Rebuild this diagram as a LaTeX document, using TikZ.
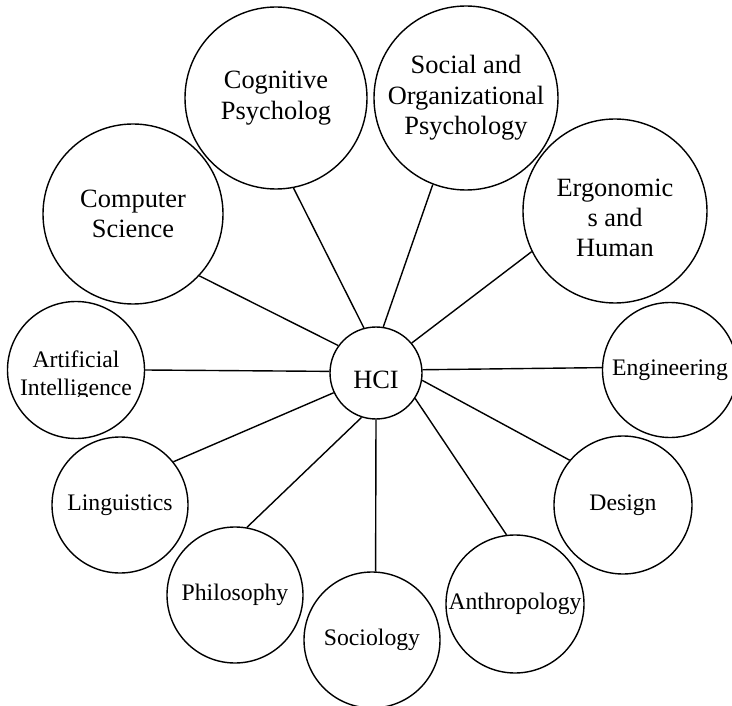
\documentclass[tikz,border=0pt]{standalone}
\usepackage{fontspec}
\setmainfont{Liberation Serif}

\begin{document}
\begin{tikzpicture}[x=1pt,y=-1pt,line width=1.4pt,
  topic/.style={draw,circle,inner sep=0pt,align=center,minimum size=#1,font=\fontsize{23.7}{27.3}\selectfont},
  bigtopic/.style={topic=#1,font=\fontsize{26.4}{30.4}\selectfont}]
  \useasboundingbox (0,0) rectangle (732,706);
  \node[bigtopic=182pt] (cog) at (276,98) {Cognitive\\Psycholog};
  \node[bigtopic=184pt] (soc) at (466,98) {Social and\\Organizational\\Psychology};
  \node[bigtopic=180pt] (cs) at (133,214) {Computer\\Science};
  \node[bigtopic=184pt,text height=92pt] (erg) at (615,211) {Ergonomic\\s and\\Human};
  \node[bigtopic=92pt,text height=31.5pt] (hci) at (376,373) {HCI};
  \node[topic=137pt] (ai) at (76,370) {};
  \node[topic=135pt] (eng) at (670,370) {Engineering};
  \node[topic=136pt] (ling) at (120,505) {Linguistics};
  \node[topic=138pt] (des) at (623,505) {Design};
  \node[topic=136pt] (phil) at (235,595) {Philosophy};
  \node[topic=136pt] (sociol) at (372,640) {Sociology};
  \node[topic=138pt] (anth) at (515,604) {Anthropology};
  \begin{scope}
    \clip (10,340) rectangle (145,396);
    \node[inner sep=0pt,align=center,anchor=base,font=\fontsize{23.7}{27.3}\selectfont] (ailabel) at (76,395) {Artificial\\Intelligence};
  \end{scope}
  \draw (cs.-43) -- (hci.144);
  \draw (cog.-79) -- (hci.105);
  \draw (soc.-111) -- (hci.81);
  \draw (erg.-154) -- (hci.40);
  \draw (eng.178) -- (hci.4);
  \draw (des.140) -- (hci.-9);
  \draw (anth.97) -- (hci.-33);
  \draw (sociol.87) -- (hci.-90);
  \draw (phil.80) -- (hci.-108);
  \draw (ling.39) -- (hci.-155);
  \draw (ai.0) -- (hci.178);
\end{tikzpicture}
\end{document}
